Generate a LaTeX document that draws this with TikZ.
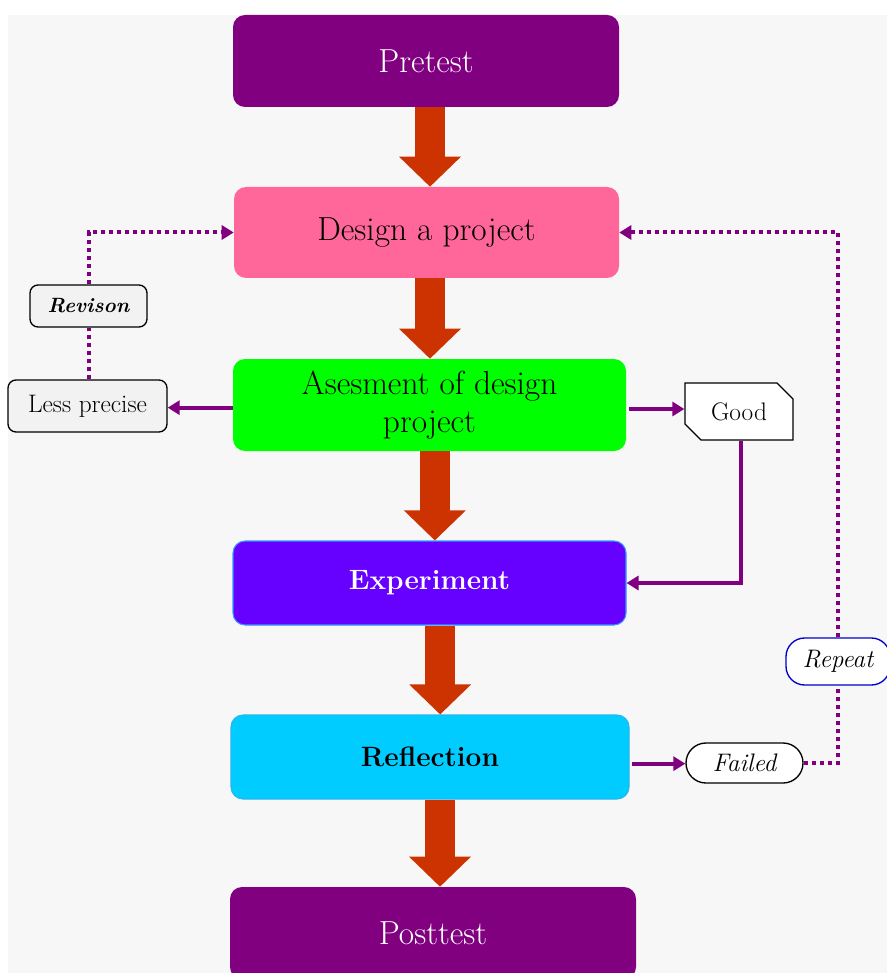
\documentclass[tikz,border=0pt]{standalone}
\usetikzlibrary{arrows.meta,shapes.misc,calc}
\definecolor{cpurple}{HTML}{800080}
\definecolor{cpink}{HTML}{FF6699}
\definecolor{cgreen}{HTML}{00FF00}
\definecolor{cviolet}{HTML}{6600FF}
\definecolor{cvborder}{HTML}{3399FF}
\definecolor{ccyan}{HTML}{00CCFF}
\definecolor{ccborder}{HTML}{22B8EE}
\definecolor{carrow}{HTML}{CC3300}
\definecolor{cbg}{HTML}{F7F7F7}
\definecolor{cless}{HTML}{F2F2F2}
\definecolor{cblue}{HTML}{0000CC}
\begin{document}
\begin{tikzpicture}[x=0.75pt,y=-0.75pt,
  mainbox/.style={rounded corners=9pt, inner sep=0pt, align=center,
    font=\fontsize{25}{28}\selectfont},
  boldbox/.style={mainbox, font=\fontsize{21}{25}\selectfont\bfseries},
  bigarrow/.style={draw=carrow, line width=22.5pt,
    -{Triangle[width=45pt,length=22.5pt]}},
  smallarrow/.style={draw=cpurple, line width=3pt,
    -{Triangle[width=10.5pt,length=9pt]}},
  dotline/.style={draw=cpurple, line width=3pt, dash pattern=on 3pt off 3pt},
  dotarrow/.style={dotline, -{Triangle[width=10.5pt,length=9pt]}},
  sidebox/.style={draw=black, line width=1pt, inner sep=0pt, align=center}]
\useasboundingbox (0,0) rectangle (887,973);
\fill[cbg] (8,15) rectangle (887,973);

% main nodes
\node[mainbox, fill=cpurple, text=white, minimum width=289.5pt, minimum height=69pt]
  (pre) at (426,61) {Pretest};
\node[mainbox, fill=cpink, minimum width=288.75pt, minimum height=68.25pt]
  (des) at (426.5,232.5) {Design a project};
\node[mainbox, fill=cgreen, minimum width=294.75pt, minimum height=69pt]
  (ase) at (429.5,405) {Asesment of design\\project};
\node[boldbox, fill=cviolet, draw=cvborder, line width=0.8pt, text=white,
  minimum width=294.75pt, minimum height=63pt]
  (exp) at (429.5,583) {Experiment};
\node[boldbox, fill=ccyan, draw=ccborder, line width=0.8pt,
  minimum width=298.5pt, minimum height=63pt]
  (ref) at (430,757) {Reflection};
\node[mainbox, fill=cpurple, text=white, minimum width=304.5pt, minimum height=69pt]
  (post) at (433,933) {Posttest};

% side nodes
\node[sidebox, fill=cless, rounded corners=6pt, minimum width=119.25pt, minimum height=39pt,
  font=\fontsize{19}{22}\selectfont] (less) at (87.5,406) {Less precise};
\node[sidebox, fill=cless, rounded corners=6pt, minimum width=87.75pt, minimum height=31.5pt,
  font=\fontsize{15.5}{18}\selectfont\bfseries\itshape] (rev) at (88.5,306) {Revison};
\node[sidebox, fill=white, chamfered rectangle, chamfered rectangle corners={north east, south west},
  chamfered rectangle xsep=6pt, chamfered rectangle ysep=6pt,
  minimum width=81pt, minimum height=42.75pt,
  font=\fontsize{19}{22}\selectfont] (good) at (739,411.5) {Good};
\node[sidebox, fill=white, rounded corners=15pt, minimum width=87.75pt, minimum height=30pt,
  font=\fontsize{19}{22}\selectfont\itshape] (fail) at (744.5,763) {Failed};
\node[sidebox, draw=cblue, fill=white, rounded corners=14pt, minimum width=78pt, minimum height=35.25pt,
  font=\fontsize{19}{22}\selectfont\itshape] (rep) at (838,661.5) {Repeat};

% big arrows
\draw[bigarrow] ([xshift=3pt]pre.south) -- ([xshift=3pt]pre.south |- des.north);
\draw[bigarrow] ([xshift=2.6pt]des.south) -- ([xshift=2.6pt]des.south |- ase.north);
\draw[bigarrow] ([xshift=4pt]ase.south) -- ([xshift=4pt]ase.south |- exp.north);
\draw[bigarrow] ([xshift=8pt]exp.south) -- ([xshift=8pt]exp.south |- ref.north);
\draw[bigarrow] ([xshift=7.5pt]ref.south) -- ([xshift=7.5pt]ref.south |- post.north);

% side connectors
\draw[smallarrow] ([yshift=-2pt]ase.west) -- ([yshift=-2pt]ase.west -| less.east);
\draw[dotline] (rev.south |- less.north) -- (rev.south);
\draw[dotarrow] (rev.north) |- (des.west);
\draw[smallarrow] ([xshift=2pt,yshift=-3pt]ase.east) -- ([yshift=-3pt]ase.east -| good.west);
\draw[smallarrow] ([xshift=1.5pt]good.south) |- (exp.east);
\draw[smallarrow] ([xshift=2pt,yshift=-5pt]ref.east) -- ([yshift=-5pt]ref.east -| fail.west);
\draw[dotline] (fail.east) -| (rep.south);
\draw[dotarrow] (rep.north) |- (des.east);
\end{tikzpicture}
\end{document}
